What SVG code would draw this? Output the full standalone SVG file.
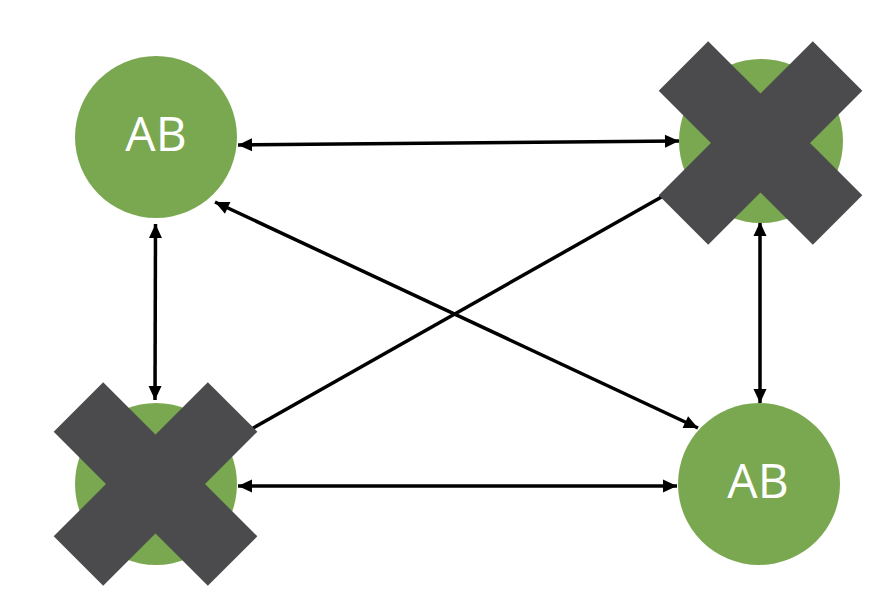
<svg xmlns="http://www.w3.org/2000/svg" width="888" height="597" viewBox="0 0 888 597">
  <defs>
    <marker id="ah" markerUnits="userSpaceOnUse" markerWidth="16" markerHeight="16" viewBox="0 0 16 16" refX="15" refY="8" orient="auto-start-reverse">
      <path d="M1,1.5 L15,8 L1,14.5 Z" fill="#000"/>
    </marker>
  </defs>
  <style>
    .node { fill: #7AA851; }
    .lbl { font-family: "Open Sans", "Liberation Sans", sans-serif; font-size: 48px; fill: #ffffff; text-anchor: middle; }
    .cross { fill: #4B4B4D; }
    .conn { stroke: #000; stroke-width: 3.5; fill: none; }
    .arr { marker-start: url(#ah); marker-end: url(#ah); }
  </style>
  <rect width="888" height="597" fill="#ffffff"/>
  <g id="connectors">
    <line class="conn arr" x1="238" y1="145" x2="679" y2="141"/>
    <line class="conn arr" x1="238" y1="486" x2="677" y2="486"/>
    <line class="conn arr" x1="155.5" y1="224" x2="155" y2="400"/>
    <line class="conn arr" x1="760" y1="222" x2="760" y2="403"/>
    <line class="conn arr" x1="215" y1="202" x2="698" y2="428"/>
    <line class="conn" x1="248" y1="431" x2="665" y2="195"/>
  </g>
  <g id="node-tl">
    <circle class="node" cx="156" cy="137" r="81"/>
    <text class="lbl" x="156" y="151">AB</text>
  </g>
  <g id="node-tr">
    <circle class="node" cx="761" cy="141" r="82"/>
    <g transform="translate(760.5,143)">
      <rect class="cross" x="-109" y="-35" width="218" height="70" transform="rotate(45)"/>
      <rect class="cross" x="-109" y="-35" width="218" height="70" transform="rotate(-45)"/>
    </g>
  </g>
  <g id="node-bl">
    <circle class="node" cx="156" cy="484" r="81"/>
    <g transform="translate(155.5,484)">
      <rect class="cross" x="-109" y="-35" width="218" height="70" transform="rotate(45)"/>
      <rect class="cross" x="-109" y="-35" width="218" height="70" transform="rotate(-45)"/>
    </g>
  </g>
  <g id="node-br">
    <circle class="node" cx="759" cy="484" r="81"/>
    <text class="lbl" x="758" y="498">AB</text>
  </g>
</svg>
